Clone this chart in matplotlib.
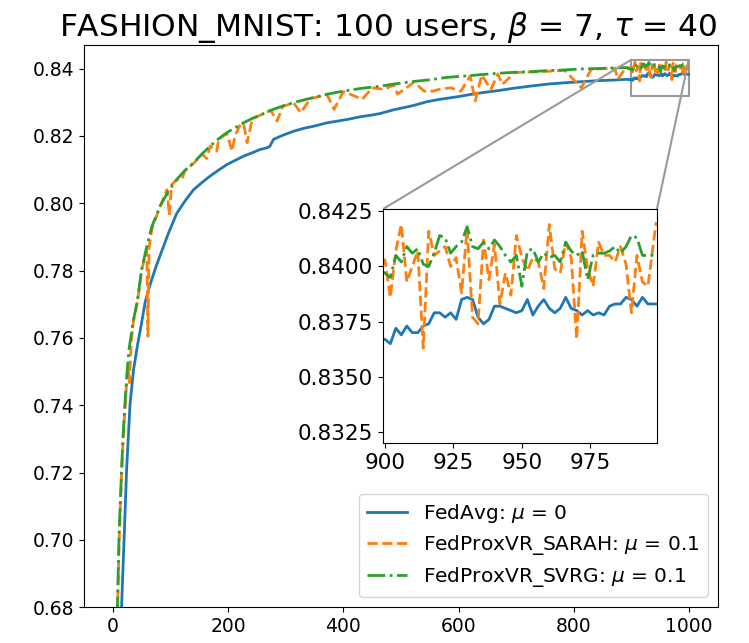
import numpy as np
import matplotlib
matplotlib.use("Agg")
import matplotlib.pyplot as plt
from mpl_toolkits.axes_grid1.inset_locator import mark_inset

# ---- data (global rounds vs. test accuracy) ----
rounds_avg = [0, 5, 10, 15, 20, 24, 30, 36, 43, 50, 56, 65, 75, 85, 97, 111, 125, 140, 155, 169,
              184, 198, 213, 227, 242, 256, 266, 272, 279, 295, 314, 330, 349, 372, 390, 407, 430,
              450, 465, 488, 505, 523, 546, 565, 581, 604, 620, 639, 670, 697, 725, 755, 785, 813,
              840, 871, 890]
acc_avg = [0.40, 0.58, 0.650, 0.679, 0.702, 0.7210, 0.7405, 0.7505, 0.7580, 0.7645, 0.7705, 0.7760,
           0.7812, 0.7858, 0.7913, 0.7970, 0.8006, 0.8040, 0.8062, 0.8081, 0.8099, 0.8115, 0.8128,
           0.8140, 0.8150, 0.8160, 0.8164, 0.8168, 0.8190, 0.8202, 0.8214, 0.8222, 0.8229, 0.8239,
           0.8244, 0.8249, 0.8257, 0.8262, 0.8267, 0.8278, 0.8284, 0.8291, 0.8302, 0.8308, 0.8312,
           0.8318, 0.8323, 0.8328, 0.8335, 0.8342, 0.8348, 0.8354, 0.8358, 0.8361, 0.8364, 0.8366,
           0.8368]

rounds_sarah = [0, 4, 8, 11, 15, 18, 23, 26, 29, 32, 36, 43, 50, 56, 59, 61, 63, 68, 82, 94, 98,
                102, 111, 120, 125, 140, 155, 163, 169, 180, 184, 198, 207, 212, 220, 227, 233, 242,
                256, 274, 285, 295, 314, 326, 343, 372, 384, 400, 433, 450, 471, 488, 494, 523, 540,
                555, 566, 586, 604, 620, 629, 640, 656, 668, 676, 697, 726, 755, 784, 813, 830, 842,
                871, 876, 890]
acc_sarah = [0.49, 0.62, 0.676, 0.700, 0.7185, 0.7300, 0.7440, 0.7520, 0.7467, 0.7590, 0.7650,
             0.7710, 0.7800, 0.7845, 0.7860, 0.7605, 0.7870, 0.7925, 0.7990, 0.8040, 0.7965, 0.8055,
             0.8070, 0.8070, 0.8097, 0.8118, 0.8146, 0.8133, 0.8170, 0.8155, 0.8190, 0.8208, 0.8155,
             0.8200, 0.8230, 0.8237, 0.8180, 0.8250, 0.8262, 0.8276, 0.8244, 0.8288, 0.8298, 0.8269,
             0.8311, 0.8322, 0.8279, 0.8332, 0.8309, 0.8343, 0.8338, 0.8352, 0.8324, 0.8360, 0.8333,
             0.8333, 0.8338, 0.8343, 0.8333, 0.8378, 0.8304, 0.8381, 0.8338, 0.8384, 0.8353, 0.8388,
             0.8390, 0.8392, 0.8395, 0.8343, 0.8398, 0.8399, 0.8401, 0.8368, 0.8402]

rounds_svrg = [0, 4, 8, 11, 15, 18, 23, 28, 36, 43, 50, 59, 68, 82, 96, 111, 125, 140, 155, 169,
               184, 198, 213, 227, 242, 256, 274, 295, 314, 343, 372, 400, 430, 465, 488, 523, 546,
               581, 604, 639, 668, 697, 726, 755, 784, 813, 842, 871, 890]
acc_svrg = [0.50, 0.63, 0.680, 0.702, 0.7198, 0.7317, 0.7456, 0.7565, 0.7654, 0.7714, 0.7803,
            0.7872, 0.7932, 0.7991, 0.8035, 0.8071, 0.8097, 0.8120, 0.8147, 0.8170, 0.8192, 0.8210,
            0.8225, 0.8239, 0.8252, 0.8262, 0.8276, 0.8289, 0.8299, 0.8312, 0.8324, 0.8333, 0.8341,
            0.8348, 0.8354, 0.8362, 0.8366, 0.8374, 0.8377, 0.8382, 0.8386, 0.8389, 0.8391, 0.8394,
            0.8396, 0.8399, 0.8400, 0.8402, 0.8403]

# last 100 rounds (the zoomed part), every second round
rounds_zoom = list(range(900, 998, 2)) + [999]
zoom_avg = [0.8367, 0.8365, 0.8372, 0.8369, 0.8373, 0.8370, 0.8370, 0.8373, 0.8374, 0.8379,
            0.8379, 0.8377, 0.8379, 0.8376, 0.8385, 0.8386, 0.8385, 0.8377, 0.8374, 0.8376,
            0.8382, 0.8382, 0.8381, 0.8380, 0.8379, 0.8380, 0.8385, 0.8378, 0.8382, 0.8385,
            0.8381, 0.8379, 0.8381, 0.8386, 0.8381, 0.8380, 0.8378, 0.8380, 0.8378, 0.8379,
            0.8378, 0.8382, 0.8383, 0.8383, 0.8386, 0.8385, 0.8382, 0.8386, 0.8383, 0.8383]
zoom_sarah = [0.8403, 0.8386, 0.8407, 0.8419, 0.8393, 0.8400, 0.8407, 0.8363, 0.8416, 0.8405,
              0.8407, 0.8409, 0.8400, 0.8404, 0.8388, 0.8417, 0.8377, 0.8374, 0.8412, 0.8394,
              0.8410, 0.8383, 0.8397, 0.8387, 0.8414, 0.8404, 0.8398, 0.8404, 0.8402, 0.8390,
              0.8419, 0.8399, 0.8397, 0.8411, 0.8404, 0.8367, 0.8416, 0.8399, 0.8391, 0.8411,
              0.8405, 0.8405, 0.8402, 0.8409, 0.8401, 0.8379, 0.8405, 0.8393, 0.8391, 0.8420]
zoom_svrg = [0.8397, 0.8395, 0.8405, 0.8402, 0.8409, 0.8406, 0.8408, 0.8401, 0.8400, 0.8406,
             0.8414, 0.8413, 0.8406, 0.8409, 0.8411, 0.8418, 0.8409, 0.8408, 0.8411, 0.8408,
             0.8412, 0.8409, 0.8405, 0.8402, 0.8405, 0.8391, 0.8407, 0.8408, 0.8402, 0.8406,
             0.8404, 0.8405, 0.8402, 0.8411, 0.8407, 0.8405, 0.8407, 0.8394, 0.8405, 0.8406,
             0.8406, 0.8407, 0.8409, 0.8406, 0.8409, 0.8414, 0.8413, 0.8405, 0.8405, 0.8405]

labels = [r'FedAvg: $\mu$ = 0', r'FedProxVR_SARAH: $\mu$ = 0.1', r'FedProxVR_SVRG: $\mu$ = 0.1']
styles = ['-', '--', '-.']
colors = ['tab:blue', 'tab:orange', 'tab:green']

series = [
    (rounds_avg + rounds_zoom, acc_avg + zoom_avg),
    (rounds_sarah + rounds_zoom, acc_sarah + zoom_sarah),
    (rounds_svrg + rounds_zoom, acc_svrg + zoom_svrg),
]

plt.rcParams['font.size'] = 13.5

fig = plt.figure(figsize=(7.49, 6.43), dpi=100)
ax = fig.add_axes([0.1121, 0.0555, 0.8465, 0.8745])

for (x, y), lab, ls, c in zip(series, labels, styles, colors):
    ax.plot(x, y, linestyle=ls, color=c, linewidth=2, label=lab)

ax.set_xlim(-50, 1050)
ax.set_ylim(0.68, 0.847)
ax.set_xticks([0, 200, 400, 600, 800, 1000])
ax.set_yticks(np.arange(0.68, 0.8401, 0.02))
ax.set_title(r'FASHION_MNIST: 100 users, $\beta$ = 7, $\tau$ = 40', fontsize=22.5, x=0.48, pad=4)
ax.legend(loc='lower right', fontsize=14.5, labelspacing=0.4)

# zoomed inset on the last 100 rounds
axins = fig.add_axes([0.5113, 0.3110, 0.3658, 0.3639])
for (x, y), ls, c in zip(series, styles, colors):
    axins.plot(x, y, linestyle=ls, color=c, linewidth=2)
axins.set_xlim(899.3, 999.3)
axins.set_ylim(0.832, 0.8426)
axins.set_xticks([900, 925, 950, 975])
axins.set_yticks([0.8325, 0.835, 0.8375, 0.84, 0.8425])
axins.set_yticklabels(['0.8325', '0.8350', '0.8375', '0.8400', '0.8425'])
axins.tick_params(labelsize=15.5)
mark_inset(ax, axins, loc1=2, loc2=1, fc='none', ec='0.6', lw=1.5)

fig.savefig('out.png', dpi=100)
